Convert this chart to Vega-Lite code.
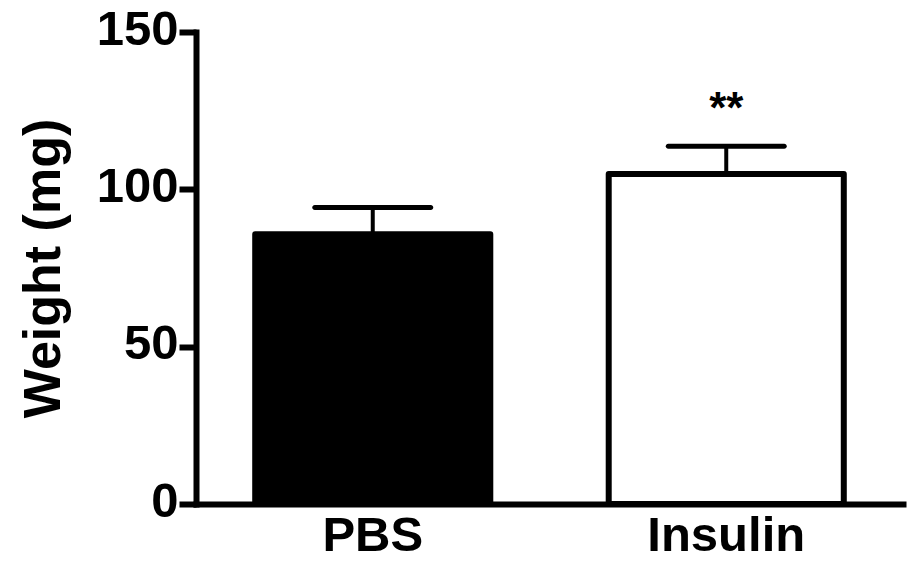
{
  "$schema": "https://vega.github.io/schema/vega-lite/v6.json",
  "autosize": "none",
  "width": 707,
  "height": 472,
  "padding": {"left": 196, "top": 32, "right": 4, "bottom": 57},
  "background": "white",
  "config": {
    "view": {"stroke": null},
    "font": "Liberation Sans",
    "axis": {"grid": false, "domainColor": "black", "tickColor": "black", "labelColor": "black", "titleColor": "black", "labelFont": "Liberation Sans", "titleFont": "Liberation Sans", "labelFontWeight": "bold", "titleFontWeight": "bold"}
  },
  "data": {
    "values": [
      {"group": "PBS", "mean": 85.7, "upper": 94.2},
      {"group": "Insulin", "mean": 104.9, "upper": 113.7}
    ]
  },
  "encoding": {
    "x": {
      "field": "group", "type": "nominal", "sort": ["PBS", "Insulin"],
      "scale": {"paddingInner": 0.335, "paddingOuter": 0.1675},
      "axis": {"title": null, "labelAngle": 0, "ticks": false, "domainWidth": 6, "domainCap": "square", "labelFontSize": 49, "labelPadding": 7, "labelBaseline": "top"}
    }
  },
  "layer": [
    {
      "mark": {"type": "rule", "strokeWidth": 4, "color": "black"},
      "encoding": {
        "y": {"field": "mean", "type": "quantitative"},
        "y2": {"field": "upper"}
      }
    },
    {
      "mark": {"type": "tick", "orient": "horizontal", "size": 121, "thickness": 5, "color": "black", "opacity": 1, "cornerRadius": 2.5},
      "encoding": {
        "y": {"field": "upper", "type": "quantitative"}
      }
    },
    {
      "mark": {"type": "bar", "stroke": "black", "strokeWidth": 6, "strokeJoin": "round", "opacity": 1},
      "encoding": {
        "y": {
          "field": "mean", "type": "quantitative",
          "scale": {"domain": [0, 150], "nice": false, "zero": true},
          "axis": {"title": "Weight (mg)", "values": [0, 50, 100, 150], "domainWidth": 6, "domainCap": "square", "tickWidth": 6, "tickSize": 17, "labelFontSize": 49, "labelPadding": 1, "labelOffset": -3, "titleFontSize": 52, "titlePadding": 26}
        },
        "fill": {"field": "group", "type": "nominal", "scale": {"domain": ["PBS", "Insulin"], "range": ["black", "white"]}, "legend": null}
      }
    },
    {
      "transform": [{"filter": "datum.group == 'Insulin'"}],
      "mark": {"type": "text", "text": "**", "fontSize": 44, "fontWeight": "bold", "baseline": "alphabetic", "color": "black", "dy": -23},
      "encoding": {
        "y": {"field": "upper", "type": "quantitative"}
      }
    }
  ]
}
